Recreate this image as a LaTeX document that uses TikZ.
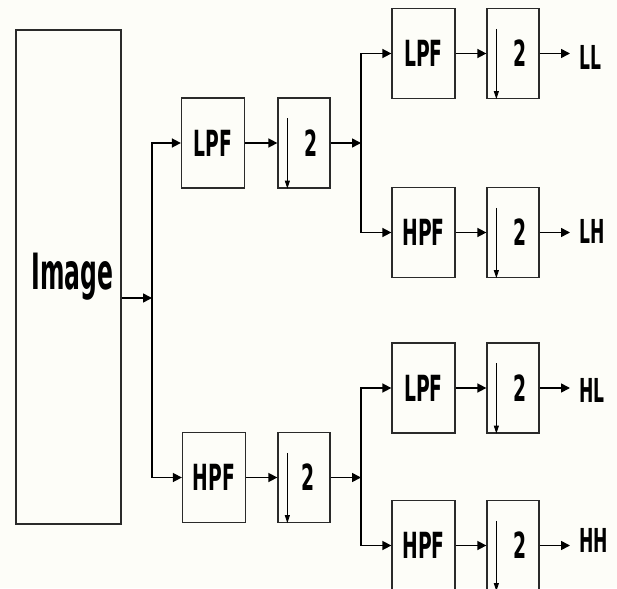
\documentclass[tikz,border=0pt]{standalone}
\usepackage{fontspec}
\newfontfamily\blkfont{DejaVu Sans}[FakeStretch=0.52]
\newfontfamily\imgfont{DejaVu Sans}[FakeStretch=0.47]
\usetikzlibrary{arrows.meta,positioning,calc}
\definecolor{PaperBg}{HTML}{FDFDF8}
\definecolor{BoxLine}{HTML}{2A2A2A}

\begin{document}
\begin{tikzpicture}[x=1pt, y=-1pt,
   box/.style={draw=BoxLine, line width=1.3pt, inner sep=0pt,
               minimum width=63pt, minimum height=90pt,
               font=\blkfont\bfseries\fontsize{36}{36}\selectfont},
   dsbox/.style={box, minimum width=52pt},
   flow/.style={-{Triangle[length=9pt,width=9pt]}, line width=1.6pt},
   dnarr/.style={-{Triangle[length=8pt,width=5pt]}, line width=0.9pt},
   outlbl/.style={inner xsep=9pt, inner ysep=0pt, anchor=west,
                  font=\blkfont\bfseries\fontsize{33}{33}\selectfont}]
  \fill[PaperBg] (0,0) rectangle (617,588);
  \useasboundingbox (0,0) rectangle (617,588);

  \node[box, minimum width=105pt, minimum height=494pt,
        font=\imgfont\bfseries\fontsize{50}{50}\selectfont] (img) at (68.5,277)
        {\raisebox{8pt}{\hspace*{8pt}Image}};

  % erste Stufe
  \node[box]   (lpf1) at (213,143)   {LPF};
  \node[dsbox] (ds1)  at (304,143)   {\hspace*{14pt}2};
  \node[box]   (hpf1) at (214,477.5) {HPF};
  \node[dsbox] (ds2)  at (304,477.5) {\hspace*{8pt}2};

  % zweite Stufe
  \node[box]   (lpfLL) at (423.5,53.5)  {LPF};
  \node[dsbox] (dsLL)  at (513,53.5)    {\hspace*{14pt}2};
  \node[box]   (hpfLH) at (423.5,232.5) {HPF};
  \node[dsbox] (dsLH)  at (513,232.5)   {\hspace*{14pt}\raisebox{-14pt}{2}};
  \node[box]   (lpfHL) at (423.5,388)   {LPF};
  \node[dsbox] (dsHL)  at (513,388)     {\hspace*{14pt}2};
  \node[box]   (hpfHH) at (423.5,545.5) {HPF};
  \node[dsbox] (dsHH)  at (513,545.5)   {\hspace*{14pt}\raisebox{-7pt}{2}};

  \node[outlbl] (LL) at (570,57)  {LL};
  \node[outlbl] (LH) at (570,231) {LH};
  \node[outlbl] (HL) at (570,390) {HL};
  \node[outlbl] (HH) at (570,540) {HH};

  % Verzweigungen
  \coordinate (j0) at (152,298);
  \coordinate (j1) at (361,143);
  \coordinate (j2) at (361,477.5);

  \draw[flow] (img.east |- j0) -- (j0);
  \draw[flow] (j0) |- (lpf1.west);
  \draw[flow] (j0) |- (hpf1.west);
  \draw[flow] (lpf1.east) -- (ds1.west);
  \draw[flow] (hpf1.east) -- (ds2.west);
  \draw[flow] (ds1.east) -- (j1);
  \draw[flow] (ds2.east) -- (j2);
  \draw[flow] (j1) |- (lpfLL.west);
  \draw[flow] (j1) |- (hpfLH.west);
  \draw[flow] (j2) |- (lpfHL.west);
  \draw[flow] (j2) |- (hpfHH.west);
  \foreach \f/\d/\o in {lpfLL/dsLL/LL, hpfLH/dsLH/LH, lpfHL/dsHL/HL, hpfHH/dsHH/HH} {
    \draw[flow] (\f.east) -- (\d.west);
    \draw[flow] (\d.east) -- (\d.east -| \o.west);
  }

  % Pfeile fuer Downsampling
  \foreach \d in {ds1,ds2,dsLL,dsLH,dsHL,dsHH}
    \draw[dnarr] ([xshift=10pt,yshift=-21pt]\d.north west) -- ([xshift=10pt]\d.south west);
\end{tikzpicture}
\end{document}
